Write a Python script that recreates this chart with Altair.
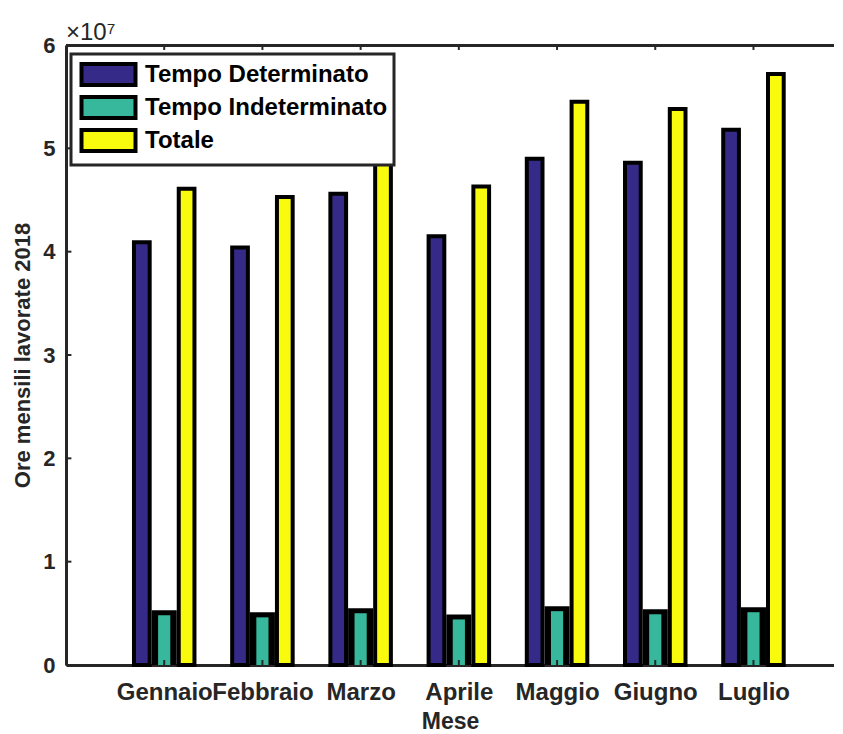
import altair as alt
import pandas as pd

# ---- data ----
months = ["Gennaio", "Febbraio", "Marzo", "Aprile", "Maggio", "Giugno", "Luglio"]
series = ["Tempo Determinato", "Tempo Indeterminato", "Totale"]
tempo_determinato = [4.09e7, 4.04e7, 4.56e7, 4.15e7, 4.90e7, 4.86e7, 5.18e7]
tempo_indeterminato = [5.1e6, 4.9e6, 5.3e6, 4.7e6, 5.5e6, 5.2e6, 5.4e6]
totale = [4.61e7, 4.53e7, 5.09e7, 4.63e7, 5.45e7, 5.38e7, 5.72e7]
y_ticks = [0, 1e7, 2e7, 3e7, 4e7, 5e7, 6e7]

colors = ["#352a87", "#37b89d", "#f9fb0e"]
offsets = {series[0]: -0.228, series[1]: 0.0, series[2]: 0.228}

rows = []
for name, vals in zip(series, [tempo_determinato, tempo_indeterminato, totale]):
    for i, (m, v) in enumerate(zip(months, vals)):
        rows.append({"mese": m, "idx": i + 1, "serie": name, "value": v,
                     "off": offsets[name]})
df = pd.DataFrame(rows)
ticks_df = pd.DataFrame({"t": y_ticks})
xt_df = pd.DataFrame({"idx": list(range(1, len(months) + 1))})

FONT = "Liberation Sans"
AX = "#262626"
label_expr = "[" + ",".join("'%s'" % m for m in months) + "][datum.value - 1]"

x_scale = alt.Scale(domain=[0, 7.82], nice=False, zero=False)
y_scale = alt.Scale(domain=[0, 6e7], nice=False)
color_scale = alt.Scale(domain=series, range=colors)

x_axis = alt.Axis(orient="bottom", values=list(range(1, 8)), labelExpr=label_expr,
                  title="Mese", tickSize=0, labelPadding=15, titlePadding=6,
                  labelOverlap=False, labelBound=False, grid=False,
                  domainColor=AX, domainWidth=3, labelFont=FONT,
                  labelFontSize=24, labelFontWeight="bold", labelColor=AX,
                  titleFont=FONT, titleFontSize=23, titleFontWeight="bold",
                  titleColor=AX)
y_axis = alt.Axis(values=y_ticks, labelExpr="datum.value / 10000000",
                  title="Ore mensili lavorate 2018", tickSize=0, labelPadding=11,
                  titlePadding=8, grid=False, domainColor=AX, domainWidth=3,
                  labelOverlap=False, labelFont=FONT, labelFontSize=22,
                  labelFontWeight="bold", labelColor=AX, titleFont=FONT,
                  titleFontSize=22, titleFontWeight="bold", titleColor=AX)

legend = alt.Legend(orient="none", legendX=5, legendY=9, title=None,
                    symbolType="M-2.16,-0.84H2.16V0.84H-2.16Z", symbolSize=625,
                    symbolOffset=17, symbolStrokeColor="black",
                    symbolStrokeWidth=4, symbolOpacity=1, labelFont=FONT,
                    labelFontSize=24, labelFontWeight="bold", labelColor="black",
                    labelLimit=400, labelOffset=22, fillColor="white",
                    strokeColor=AX, padding=6, rowPadding=-12.5)

base = alt.Chart(df).transform_calculate(zero="0")

side_bars = base.transform_filter(
    alt.datum.serie != series[1]
).transform_calculate(
    x0="datum.idx + datum.off - 0.08", x1="datum.idx + datum.off + 0.08"
).mark_bar(stroke="black", strokeWidth=4, strokeJoin="miter").encode(
    x=alt.X("x0:Q", scale=x_scale, axis=x_axis),
    x2="x1:Q",
    y=alt.Y("value:Q", scale=y_scale, axis=y_axis),
    y2="zero:Q",
    color=alt.Color("serie:N", scale=color_scale, legend=legend),
)

mid_back = base.transform_filter(
    alt.datum.serie == series[1]
).transform_calculate(
    x0="datum.idx - 0.107", x1="datum.idx + 0.107"
).mark_bar(fill="black", stroke="black", strokeWidth=4, clip=True).encode(
    x=alt.X("x0:Q", scale=x_scale, axis=None), x2="x1:Q",
    y=alt.Y("value:Q", scale=y_scale), y2="zero:Q",
)

mid = base.transform_filter(
    alt.datum.serie == series[1]
).transform_calculate(
    x0="datum.idx - 0.062", x1="datum.idx + 0.062"
).mark_bar(yOffset=3, clip=True).encode(
    x=alt.X("x0:Q", scale=x_scale, axis=None), x2="x1:Q",
    y=alt.Y("value:Q", scale=y_scale), y2="zero:Q",
    color=alt.Color("serie:N", scale=color_scale, legend=legend),
)

# inward ticks
y_tick_rules = alt.Chart(ticks_df).transform_calculate(
    a="0", b="0.055"
).mark_rule(color=AX, strokeWidth=2).encode(
    x=alt.X("a:Q", scale=x_scale, axis=None), x2="b:Q",
    y=alt.Y("t:Q", scale=y_scale),
)
bottom_ticks = alt.Chart(xt_df).transform_calculate(
    a="0", b="480000"
).mark_rule(color=AX, strokeWidth=2).encode(
    x=alt.X("idx:Q", scale=x_scale, axis=None),
    y=alt.Y("a:Q", scale=y_scale), y2="b:Q",
)
top_ticks = alt.Chart(xt_df).transform_calculate(
    a="60000000", b="59520000"
).mark_rule(color=AX, strokeWidth=2).encode(
    x=alt.X("idx:Q", scale=x_scale,
            axis=alt.Axis(orient="top", labels=False, ticks=False, title=None,
                          grid=False, domainColor=AX, domainWidth=3)),
    y=alt.Y("a:Q", scale=y_scale), y2="b:Q",
)

chart = alt.layer(
    side_bars, mid_back, mid, y_tick_rules, bottom_ticks, top_ticks
).resolve_axis(x="independent").properties(
    width=768, height=620,
    padding={"left": 3, "top": 13, "right": 0, "bottom": 0},
    title=alt.TitleParams("×10⁷", anchor="start", frame="group", font=FONT,
                          fontSize=24, fontWeight="normal", color=AX, offset=-11),
).configure_view(stroke=None).configure_legend(strokeWidth=3)

chart.save("out.html", embed_options={"renderer": "svg", "actions": False})
